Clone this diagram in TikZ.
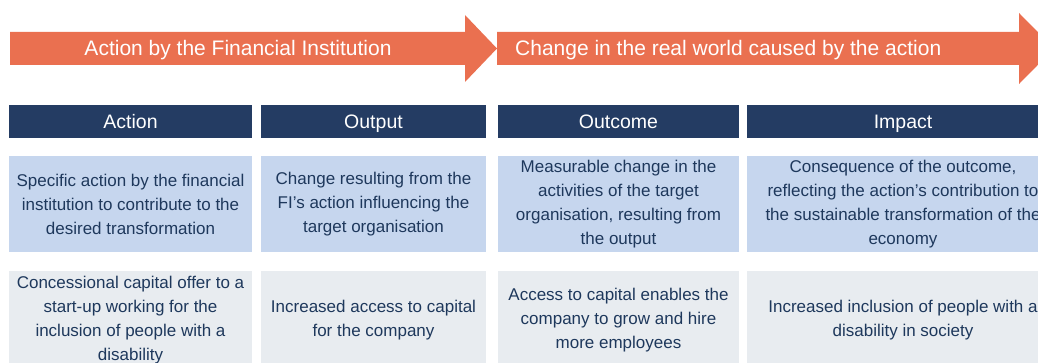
\documentclass[tikz,border=0pt]{standalone}
\usepackage{fontspec}
\setmainfont{Liberation Sans}
\definecolor{arroworange}{RGB}{234,112,80}
\definecolor{hdrnavy}{RGB}{36,60,99}
\definecolor{descblue}{RGB}{198,214,238}
\definecolor{exgrey}{RGB}{232,236,240}
\definecolor{txtnavy}{RGB}{30,56,92}
\begin{document}
\begin{tikzpicture}[x=1pt,y=-1pt,
  arrowfill/.style={fill=arroworange},
  arrowtext/.style={text=white,font=\fontsize{21}{24}\selectfont,inner sep=0pt,text height=18.5pt,text depth=4pt},
  hdr/.style={fill=hdrnavy,text=white,font=\fontsize{19.5}{23}\selectfont,minimum height=33pt,inner sep=0pt,text height=18pt,text depth=4pt},
  desc/.style={fill=descblue,text=txtnavy,font=\fontsize{17}{24}\selectfont,minimum height=96pt,inner sep=0pt,align=center},
  example/.style={fill=exgrey,text=txtnavy,font=\fontsize{17}{24}\selectfont,minimum height=98pt,inner sep=0pt,align=center}]
\useasboundingbox (0,0) rectangle (1038,363);
\clip (0,0) rectangle (1038,363);
% arrows
\fill[arrowfill] (10,32) -- (465,32) -- (465,15) -- (497,48.5) -- (465,82) -- (465,65) -- (10,65) -- cycle;
\fill[arrowfill] (497,32) -- (1019,32) -- (1019,13) -- (1054,48.5) -- (1019,84) -- (1019,65) -- (497,65) -- cycle;
\node[arrowtext] (a1) at (238,48.5) {Action by the Financial Institution};
\node[arrowtext,anchor=west] (a2) at (515,48.5) {Change in the real world caused by the action};
% headers
\node[hdr,minimum width=243pt] (h1) at (130.5,121.5) {Action};
\node[hdr,minimum width=225pt] (h2) at (373.5,121.5) {Output};
\node[hdr,minimum width=241pt] (h3) at (618.5,121.5) {Outcome};
\node[hdr,minimum width=312pt] (h4) at (903,121.5) {Impact};
% descriptions
\node[desc,minimum width=243pt] (d1) at (130.5,204) {Specific action by the financial\\institution to contribute to the\\desired transformation};
\node[desc,minimum width=225pt] (d2) at (373.5,204) {Change resulting from the\\FI’s action influencing the\\target organisation};
\node[desc,minimum width=241pt] (d3) at (618.5,204) {Measurable change in the\\activities of the target\\organisation, resulting from\\the output};
\node[desc,minimum width=312pt] (d4) at (903,204) {Consequence of the outcome,\\reflecting the action’s contribution to\\the sustainable transformation of the\\economy};
% examples
\node[example,minimum width=243pt] (e1) at (130.5,320) {Concessional capital offer to a\\start-up working for the\\inclusion of people with a\\disability};
\node[example,minimum width=225pt] (e2) at (373.5,320) {Increased access to capital\\for the company};
\node[example,minimum width=241pt] (e3) at (618.5,320) {Access to capital enables the\\company to grow and hire\\more employees};
\node[example,minimum width=312pt] (e4) at (903,320) {Increased inclusion of people with a\\disability in society};
\end{tikzpicture}
\end{document}
